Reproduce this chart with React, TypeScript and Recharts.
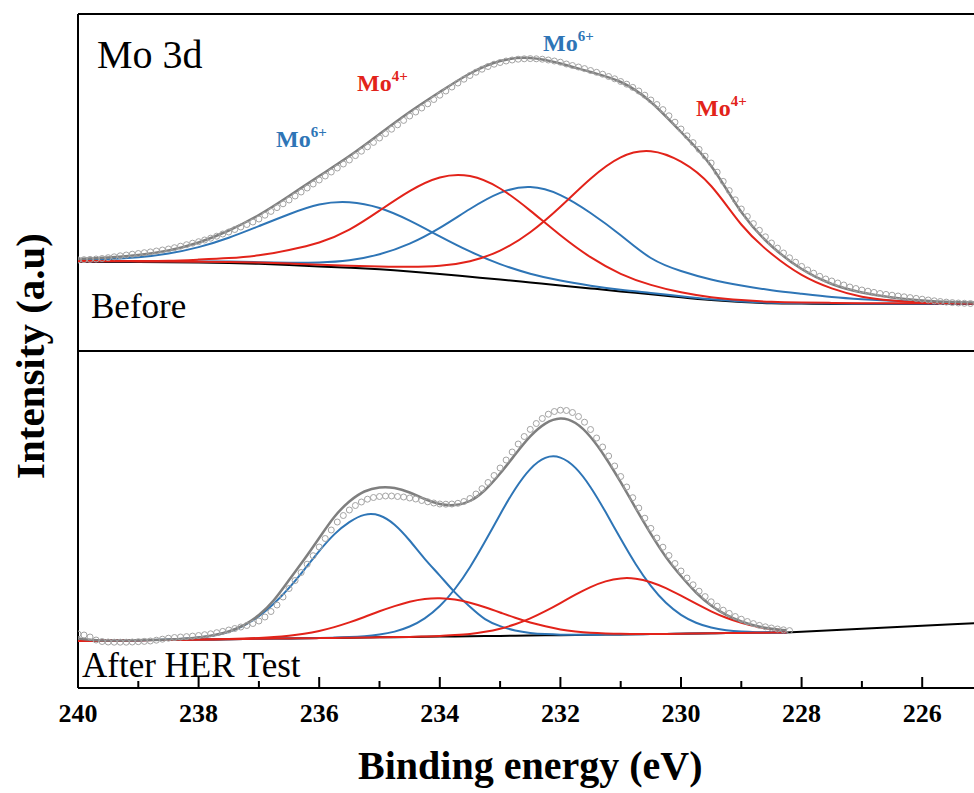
import React from "react";
import { ComposedChart, Line, XAxis, YAxis, ReferenceLine } from "recharts";

// Mo 3d XPS, intensity in a.u. above each panel's floor

// ---- Before (top panel) ----
const topEnergy = [
  240, 239.5, 239, 238.5, 238, 237.5, 237, 236.5, 236, 235.5, 235, 234.5, 234, 233.5, 233, 232.5,
  232, 231.5, 231, 230.5, 230, 229.5, 229, 228.5, 228, 227.5, 227, 226.5, 226, 225.5, 225,
];
const topBackground = [
  89.0, 89.0, 88.9, 88.7, 88.4, 87.9, 87.2, 86.0, 84.6, 83.2, 81.7, 79.6, 77.0, 74.2, 71.4, 68.5,
  65.6, 62.6, 59.6, 56.8, 53.8, 51.0, 49.0, 47.8, 47.4, 47.1, 47.0, 47.0, 47.0, 47.0, 47.0,
];
const topMo6High = [
  90.6, 91.7, 93.7, 97.5, 103.9, 113.3, 124.9, 136.8, 146.5, 148.8, 143.0, 130.4, 114.7, 99.6, 86.9, 77.3,
  70.4, 65.3, 61.2, 58.0, 54.7, 51.7, 49.6, 48.3, 47.8, 47.4, 47.3, 47.3, 47.3, 47.3, 47.3,
];
const topMo4High = [
  89.9, 90.0, 90.1, 90.3, 91.4, 92.9, 95.7, 101.0, 108.5, 121.4, 140.4, 159.9, 173.5, 174.9, 162.5, 140.4,
  115.7, 93.8, 77.2, 66.1, 58.7, 53.8, 50.9, 49.2, 48.5, 48.1, 47.8, 47.8, 47.7, 47.6, 47.6,
];
const topMo6Low = [
  89.6, 89.7, 89.8, 89.7, 89.6, 89.4, 88.8, 88.3, 88.6, 90.8, 96.7, 107.3, 123.1, 142.0, 158.1, 163.9,
  155.9, 138.0, 115.8, 93.0, 80.0, 71.5, 65.5, 60.8, 57.2, 54.0, 51.8, 50.2, 49.0, 48.3, 47.8,
];
const topMo4Low = [
  89.6, 89.7, 89.6, 89.5, 89.3, 89.0, 88.4, 87.4, 86.3, 85.3, 84.6, 84.2, 85.2, 89.8, 100.4, 118.8,
  144.3, 172.3, 193.7, 199.8, 189.3, 165.0, 126.5, 97.2, 76.1, 62.6, 54.3, 50.5, 48.6, 48.0, 47.8,
];
const topEnvelope = [
  92.0, 93.5, 96.0, 100.5, 108.5, 120.5, 136.0, 155.0, 175.0, 195.0, 217.0, 239.0, 259.0, 277.5, 290.0, 293.0,
  287.5, 279.0, 269.0, 249.0, 219.0, 185.0, 139.0, 105.0, 82.0, 67.0, 58.5, 53.5, 50.5, 49.0, 48.5,
];

// measured points, both panels share this energy list
const dataEnergy = [
  240.0, 239.9, 239.8, 239.7, 239.6, 239.5, 239.4, 239.3, 239.2, 239.1,
  239.0, 238.9, 238.8, 238.7, 238.6, 238.5, 238.4, 238.3, 238.2, 238.1,
  238.0, 237.9, 237.8, 237.7, 237.6, 237.5, 237.4, 237.3, 237.2, 237.1,
  237.0, 236.9, 236.8, 236.7, 236.6, 236.5, 236.4, 236.3, 236.2, 236.1,
  236.0, 235.9, 235.8, 235.7, 235.6, 235.5, 235.4, 235.3, 235.2, 235.1,
  235.0, 234.9, 234.8, 234.7, 234.6, 234.5, 234.4, 234.3, 234.2, 234.1,
  234.0, 233.9, 233.8, 233.7, 233.6, 233.5, 233.4, 233.3, 233.2, 233.1,
  233.0, 232.9, 232.8, 232.7, 232.6, 232.5, 232.4, 232.3, 232.2, 232.1,
  232.0, 231.9, 231.8, 231.7, 231.6, 231.5, 231.4, 231.3, 231.2, 231.1,
  231.0, 230.9, 230.8, 230.7, 230.6, 230.5, 230.4, 230.3, 230.2, 230.1,
  230.0, 229.9, 229.8, 229.7, 229.6, 229.5, 229.4, 229.3, 229.2, 229.1,
  229.0, 228.9, 228.8, 228.7, 228.6, 228.5, 228.4, 228.3, 228.2, 228.1,
  228.0, 227.9, 227.8, 227.7, 227.6, 227.5, 227.4, 227.3, 227.2, 227.1,
  227.0, 226.9, 226.8, 226.7, 226.6, 226.5, 226.4, 226.3, 226.2, 226.1,
  226.0, 225.9, 225.8, 225.7, 225.6, 225.5, 225.4, 225.3, 225.2,
];
const topRaw = [
  91.0, 91.3, 91.6, 92.0, 92.5, 93.3, 94.2, 95.2, 96.0, 96.8,
  97.5, 98.3, 99.1, 100.0, 101.0, 102.0, 103.3, 104.8, 106.3, 107.8,
  109.3, 111.0, 112.8, 114.8, 117.0, 119.0, 121.5, 124.0, 126.5, 129.0,
  132.0, 135.8, 139.6, 143.4, 147.2, 151.0, 155.0, 159.0, 163.0, 167.0,
  171.0, 175.0, 179.0, 183.0, 187.0, 191.0, 195.4, 199.8, 204.2, 208.6,
  213.0, 217.4, 221.8, 226.2, 230.6, 235.0, 239.0, 243.0, 247.2, 251.5,
  255.8, 260.0, 264.0, 268.0, 271.8, 275.5, 278.8, 281.8, 284.5, 286.8,
  288.5, 290.0, 291.0, 291.8, 292.2, 292.4, 292.2, 291.8, 291.0, 290.0,
  288.8, 287.0, 285.5, 284.0, 282.4, 280.5, 278.7, 276.8, 274.5, 272.2,
  269.5, 266.8, 263.6, 260.0, 255.8, 251.0, 246.5, 241.4, 235.2, 228.8,
  222.0, 215.2, 208.4, 201.6, 194.8, 188.0, 178.8, 169.6, 160.4, 151.2,
  142.0, 134.5, 127.4, 120.7, 114.2, 108.0, 102.9, 98.0, 93.2, 88.8,
  84.6, 81.0, 77.8, 74.7, 72.0, 70.0, 68.0, 66.0, 64.0, 62.5,
  61.0, 59.8, 58.6, 57.5, 56.6, 55.8, 55.0, 54.2, 53.4, 52.6,
  51.8, 51.0, 50.2, 49.5, 48.9, 48.4, 48.0, 47.7, 47.5,
];

// ---- After HER Test (bottom panel) ----
const bottomEnergy = [
  240, 239.75, 239.5, 239.25, 239, 238.75, 238.5, 238.25, 238, 237.75, 237.5, 237.25,
  237, 236.75, 236.5, 236.25, 236, 235.75, 235.5, 235.25, 235, 234.75, 234.5, 234.25,
  234, 233.75, 233.5, 233.25, 233, 232.75, 232.5, 232.25, 232, 231.75, 231.5, 231.25,
  231, 230.75, 230.5, 230.25, 230, 229.75, 229.5, 229.25, 229, 228.75, 228.5, 228.25,
];
const bottomBgEnergy = [
  240, 239.75, 239.5, 239.25, 239, 238.75, 238.5, 238.25, 238, 237.75, 237.5, 237.25,
  237, 236.75, 236.5, 236.25, 236, 235.75, 235.5, 235.25, 235, 234.75, 234.5, 234.25,
  234, 233.75, 233.5, 233.25, 233, 232.75, 232.5, 232.25, 232, 231.75, 231.5, 231.25,
  231, 230.75, 230.5, 230.25, 230, 229.75, 229.5, 229.25, 229, 228.75, 228.5, 228.25,
  228, 227.5, 227, 226.5, 226, 225.5, 225,
];
const bottomBackground = [
  47.0, 47.2, 47.4, 47.5, 47.7, 47.9, 48.1, 48.3, 48.5, 48.6, 48.8, 49.0,
  49.2, 49.4, 49.6, 49.7, 49.9, 50.1, 50.3, 50.5, 50.7, 50.8, 51.0, 51.2,
  51.4, 51.6, 51.7, 51.9, 52.1, 52.3, 52.5, 52.7, 52.8, 53.0, 53.2, 53.4,
  53.6, 53.8, 53.9, 54.1, 54.3, 54.5, 54.7, 54.9, 55.0, 55.2, 55.4, 55.6,
  56.3, 57.8, 59.3, 60.8, 62.2, 63.7, 65.2,
];
const bottomMo6High = [
  47.0, 47.2, 47.4, 47.5, 47.8, 48.1, 48.5, 49.2, 50.5, 52.6, 56.3, 62.5,
  71.7, 84.4, 100.1, 118.2, 136.9, 153.6, 165.8, 173.1, 172.5, 163.3, 147.5, 129.2,
  112.4, 95.6, 81.2, 68.9, 61.9, 57.5, 55.1, 53.9, 53.3, 53.2, 53.3, 53.4,
  53.6, 53.8, 53.9, 54.1, 54.3, 54.5, 54.7, 54.9, 55.0, 55.2, 55.4, 55.6,
];
const bottomMo4High = [
  47.0, 47.2, 47.4, 47.5, 47.7, 47.9, 48.1, 48.3, 48.5, 48.7, 49.0, 49.4,
  50.0, 50.9, 52.3, 54.3, 57.1, 60.9, 65.6, 71.0, 76.7, 81.9, 86.3, 89.1,
  89.8, 88.5, 85.2, 80.7, 75.5, 70.2, 65.5, 61.7, 58.6, 56.6, 55.3, 54.6,
  54.2, 54.1, 54.0, 54.1, 54.3, 54.5, 54.7, 54.9, 55.0, 55.2, 55.4, 55.6,
];
const bottomMo6Low = [
  47.0, 47.2, 47.4, 47.5, 47.7, 47.9, 48.1, 48.3, 48.5, 48.6, 48.8, 49.0,
  49.2, 49.4, 49.6, 49.8, 50.0, 50.4, 50.9, 51.8, 53.5, 56.4, 61.5, 69.7,
  82.0, 99.0, 120.8, 146.4, 173.6, 199.0, 218.9, 230.1, 230.4, 220.1, 200.8, 175.9,
  149.2, 123.8, 102.1, 85.2, 73.2, 65.3, 60.5, 57.8, 56.4, 55.8, 55.7, 55.7,
];
const bottomMo4Low = [
  47.0, 47.2, 47.4, 47.5, 47.7, 47.9, 48.1, 48.3, 48.5, 48.6, 48.8, 49.0,
  49.2, 49.4, 49.6, 49.7, 49.9, 50.1, 50.3, 50.5, 50.7, 50.9, 51.1, 51.5,
  52.0, 52.9, 54.1, 56.2, 59.3, 63.7, 69.6, 76.8, 84.9, 93.3, 100.9, 106.6,
  109.6, 109.3, 105.8, 99.9, 92.3, 84.3, 76.7, 70.2, 65.1, 61.4, 59.0, 57.6,
];
const bottomEnvelope = [
  49.5, 48.0, 47.4, 47.5, 47.8, 48.1, 48.5, 49.2, 50.5, 52.7, 56.5, 62.9,
  73.0, 88.0, 108.0, 128.5, 150.0, 171.0, 186.5, 196.5, 200.5, 200.0, 195.5, 189.0,
  184.0, 183.0, 187.0, 198.0, 214.5, 233.5, 251.6, 264.4, 269.5, 265.0, 251.0, 230.3,
  205.8, 179.6, 154.1, 131.0, 112.0, 95.5, 82.5, 73.1, 66.5, 62.0, 59.3, 57.7,
];
const bottomRaw = [
  54.0, 53.0, 51.0, 48.0, 46.5, 46.0, 45.8, 45.8, 45.8, 46.0,
  46.3, 46.6, 47.0, 47.8, 48.8, 49.8, 50.5, 51.0, 51.4, 51.9,
  52.5, 53.3, 54.2, 55.3, 56.6, 58.0, 59.5, 61.0, 62.5, 64.5,
  67.0, 71.0, 76.5, 83.0, 91.0, 99.5, 107.5, 115.5, 123.8, 132.3,
  141.0, 149.5, 158.0, 166.0, 172.5, 178.0, 182.5, 186.0, 188.8, 190.5,
  191.5, 192.0, 192.0, 191.5, 191.0, 190.0, 189.0, 187.5, 186.2, 185.0,
  184.0, 183.8, 184.0, 184.7, 186.5, 189.5, 194.0, 199.3, 205.5, 212.5,
  220.0, 228.0, 236.0, 244.0, 251.5, 258.6, 264.5, 269.5, 273.8, 276.5,
  277.8, 277.5, 275.5, 271.5, 265.8, 258.5, 250.0, 241.0, 232.0, 222.0,
  211.5, 201.0, 190.3, 180.0, 169.8, 159.6, 150.0, 140.8, 132.5, 124.5,
  117.0, 110.0, 103.2, 96.8, 91.4, 86.2, 81.8, 77.8, 74.6, 71.5,
  68.8, 66.5, 64.4, 62.6, 61.2, 60.0, 59.0, 58.2, 57.4,
];

const energyTicks = [240, 239, 238, 237, 236, 235, 234, 233, 232, 231, 230, 229, 228, 227, 226, 225];

const FONT = "'Times New Roman', 'Liberation Serif', serif";
const BLUE = "#2E75B6";
const RED = "#E2231A";
const FIT = "#7F7F7F";
const RAW = "#A3A3A3";

const pts = (es: number[], vs: number[]) => vs.map((v, i) => ({ e: es[i], v }));

const topRawPts = pts(dataEnergy, topRaw);
const bottomRawPts = pts(dataEnergy, bottomRaw);

function EnergyTick(props: any) {
  const { x, y, payload } = props;
  const major = payload.value % 2 === 0;
  return (
    <g>
      <line x1={x} x2={x} y1={y} y2={y - (major ? 11 : 7)} stroke="#000" strokeWidth={2} />
      {major && (
        <text x={x} y={y + 34} textAnchor="middle" fontFamily={FONT} fontWeight="bold" fontSize={26} fill="#000">
          {payload.value}
        </text>
      )}
    </g>
  );
}

const rawDot = { r: 3, stroke: RAW, strokeWidth: 1, fill: "none" };

function MoLabel({ x, y, charge, color }: { x: number; y: number; charge: string; color: string }) {
  return (
    <text x={x} y={y} fontFamily={FONT} fontWeight="bold" fontSize={24} fill={color}>
      Mo
      <tspan dy={-10} fontSize={15}>
        {charge}
      </tspan>
    </text>
  );
}

export default function App() {
  return (
    <div style={{ position: "absolute", left: 0, top: 0, width: 974, height: 793, overflow: "hidden", background: "#fff" }}>
      {/* Before */}
      <div style={{ position: "absolute", left: 0, top: 0 }}>
        <ComposedChart width={1000} height={360} margin={{ top: 14, right: 17.5, bottom: 9, left: 78 }}>
          <XAxis type="number" dataKey="e" domain={[225, 240]} reversed allowDataOverflow hide />
          <YAxis type="number" domain={[0, 337]} allowDataOverflow hide />
          <ReferenceLine y={337} stroke="#000" strokeWidth={2} />
          <ReferenceLine y={0} stroke="#000" strokeWidth={2} />
          <ReferenceLine x={240} stroke="#000" strokeWidth={2} />
          <Line data={topRawPts} dataKey="v" stroke="none" dot={rawDot} isAnimationActive={false} />
          <Line data={pts(topEnergy, topBackground)} dataKey="v" type="natural" stroke="#000" strokeWidth={2} dot={false} isAnimationActive={false} />
          <Line data={pts(topEnergy, topMo6High)} dataKey="v" type="natural" stroke={BLUE} strokeWidth={2} dot={false} isAnimationActive={false} />
          <Line data={pts(topEnergy, topMo6Low)} dataKey="v" type="natural" stroke={BLUE} strokeWidth={2} dot={false} isAnimationActive={false} />
          <Line data={pts(topEnergy, topMo4High)} dataKey="v" type="natural" stroke={RED} strokeWidth={2} dot={false} isAnimationActive={false} />
          <Line data={pts(topEnergy, topMo4Low)} dataKey="v" type="natural" stroke={RED} strokeWidth={2} dot={false} isAnimationActive={false} />
          <Line data={pts(topEnergy, topEnvelope)} dataKey="v" type="natural" stroke={FIT} strokeWidth={2.5} dot={false} isAnimationActive={false} />
        </ComposedChart>
      </div>

      {/* After HER test */}
      <div style={{ position: "absolute", left: 0, top: 0 }}>
        <ComposedChart width={1000} height={793} margin={{ top: 351, right: 17.5, bottom: 5, left: 78 }}>
          <XAxis
            type="number"
            dataKey="e"
            domain={[225, 240]}
            reversed
            allowDataOverflow
            ticks={energyTicks}
            interval={0}
            height={100}
            tickLine={false}
            tickSize={0}
            tickMargin={0}
            axisLine={{ stroke: "#000", strokeWidth: 2 }}
            tick={EnergyTick}
            label={{
              value: "Binding energy (eV)",
              position: "insideBottom",
              offset: 9,
              fontFamily: FONT,
              fontWeight: "bold",
              fontSize: 40,
              fill: "#000",
            }}
          />
          <YAxis type="number" domain={[0, 337]} allowDataOverflow hide />
          <ReferenceLine x={240} stroke="#000" strokeWidth={2} />
          <Line data={bottomRawPts} dataKey="v" stroke="none" dot={rawDot} isAnimationActive={false} />
          <Line data={pts(bottomBgEnergy, bottomBackground)} dataKey="v" type="linear" stroke="#000" strokeWidth={2} dot={false} isAnimationActive={false} />
          <Line data={pts(bottomEnergy, bottomMo6High)} dataKey="v" type="natural" stroke={BLUE} strokeWidth={2} dot={false} isAnimationActive={false} />
          <Line data={pts(bottomEnergy, bottomMo6Low)} dataKey="v" type="natural" stroke={BLUE} strokeWidth={2} dot={false} isAnimationActive={false} />
          <Line data={pts(bottomEnergy, bottomMo4High)} dataKey="v" type="natural" stroke={RED} strokeWidth={2} dot={false} isAnimationActive={false} />
          <Line data={pts(bottomEnergy, bottomMo4Low)} dataKey="v" type="natural" stroke={RED} strokeWidth={2} dot={false} isAnimationActive={false} />
          <Line data={pts(bottomEnergy, bottomEnvelope)} dataKey="v" type="natural" stroke={FIT} strokeWidth={2.5} dot={false} isAnimationActive={false} />
        </ComposedChart>
      </div>

      {/* annotations */}
      <svg width={974} height={793} style={{ position: "absolute", left: 0, top: 0, pointerEvents: "none" }}>
        <text x={97} y={68} fontFamily={FONT} fontSize={40} fill="#000">Mo 3d</text>
        <text x={91} y={318} fontFamily={FONT} fontSize={35} fill="#000">Before</text>
        <text x={82} y={677} fontFamily={FONT} fontSize={35} fill="#000">After HER Test</text>
        <MoLabel x={276} y={147} charge="6+" color={BLUE} />
        <MoLabel x={357} y={91} charge="4+" color={RED} />
        <MoLabel x={543} y={51} charge="6+" color={BLUE} />
        <MoLabel x={696} y={116} charge="4+" color={RED} />
        <text
          x={44}
          y={356}
          transform="rotate(-90 44 356)"
          textAnchor="middle"
          fontFamily={FONT}
          fontWeight="bold"
          fontSize={41}
          fill="#000"
        >
          Intensity (a.u)
        </text>
      </svg>
    </div>
  );
}
